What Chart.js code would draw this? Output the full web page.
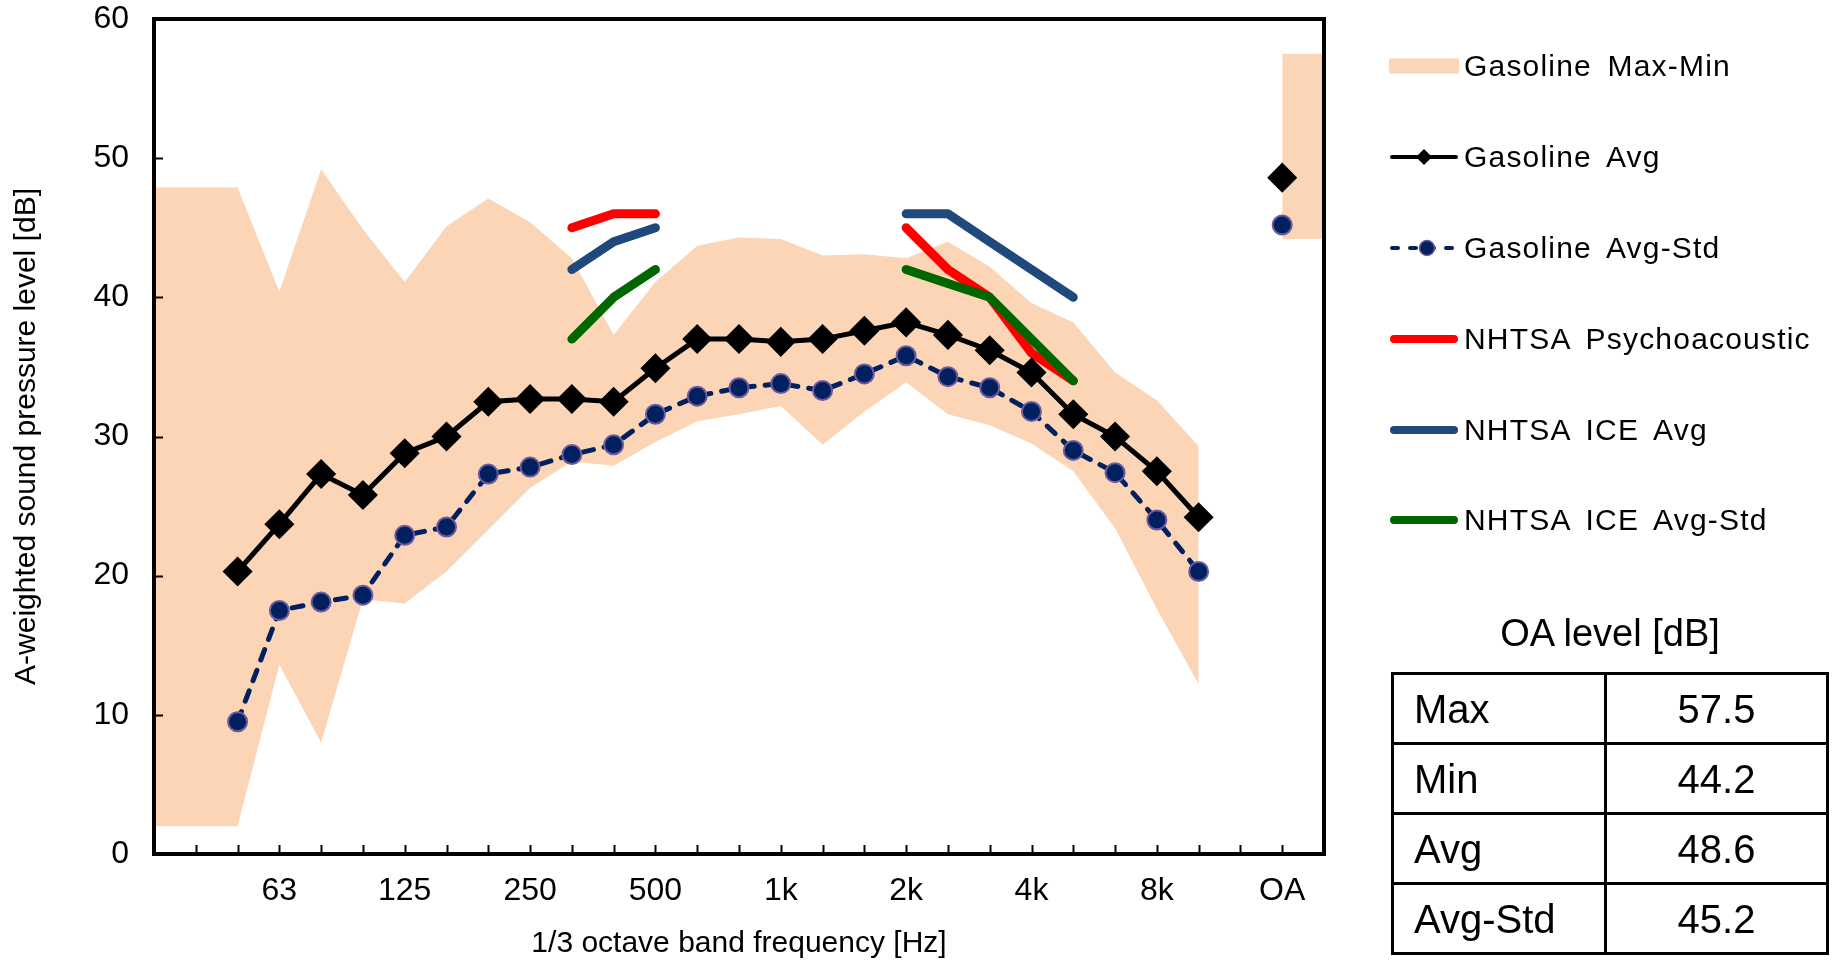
<!DOCTYPE html>
<html>
<head>
<meta charset="utf-8">
<script src="https://cdn.jsdelivr.net/npm/chart.js@4.4.1/dist/chart.umd.min.js"></script>
<style>
  body { margin: 0; background: #fff; font-family: 'Liberation Sans', Arial, sans-serif; color: #000; }
  #wrap { position: relative; width: 1841px; height: 966px; overflow: hidden; }
  #chartBox { position: absolute; left: 0; top: 0; width: 1841px; height: 966px; }
  #legend { position: absolute; left: 1389px; top: 0; }
  .item { position: absolute; left: 0; height: 36px; display: flex; align-items: center; white-space: nowrap;
          font-size: 30px; letter-spacing: 1.2px; word-spacing: 6px; }
  .item svg { width: 70px; height: 24px; margin-right: 5px; flex: none; }
  #oaTitle { position: absolute; left: 1391px; width: 438px; top: 612px; text-align: center; font-size: 38px; }
  #oaTable { position: absolute; left: 1391px; top: 672px; width: 438px; border-collapse: collapse; font-size: 40px; }
  #oaTable td { border: 3px solid #000; height: 67px; padding: 0; line-height: 1; }
  #oaTable td.k { width: 190px; padding-left: 20px; }
  #oaTable td.v { text-align: center; }
</style>
</head>
<body>
<div id="wrap">
  <div id="chartBox"><canvas id="spectrumChart"></canvas></div>
  <div id="legend"></div>
  <div id="oaTitle">OA level [dB]</div>
  <table id="oaTable"></table>
</div>
<script>
// 1/3 octave slots, left axis = 31.5 Hz, blank slot before OA, blank slot at right edge
const xLabels = ['31.5','40','50','63','80','100','125','160','200','250','315','400','500','630','800',
                 '1k','1.25k','1.6k','2k','2.5k','3.15k','4k','5k','6.3k','8k','10k','','OA',''];
const shownLabels = ['63','125','250','500','1k','2k','4k','8k','OA'];
const yTicks = [0, 10, 20, 30, 40, 50, 60];

const gasMax = [47.9,47.9,47.9,40.4,49.2,44.9,41.1,45.1,47.1,45.4,42.8,37.3,41.1,43.7,44.3,44.2,43.0,43.1,42.8,44.0,42.2,39.6,38.2,34.6,32.6,29.3,null,57.5,57.5];
const gasMin = [2.0,2.0,2.0,13.6,8.0,18.3,18.0,20.3,23.3,26.3,28.2,27.9,29.6,31.1,31.6,32.2,29.4,31.8,33.9,31.6,30.8,29.5,27.5,23.4,17.6,12.2,null,44.2,44.2];
const gasAvg = [null,null,20.3,23.7,27.3,25.8,28.8,30.0,32.5,32.7,32.7,32.5,34.9,37.0,37.0,36.8,37.0,37.6,38.2,37.3,36.2,34.6,31.6,30.0,27.5,24.2,null,48.6,null];
const gasAvgStd = [null,null,9.5,17.5,18.1,18.6,22.9,23.5,27.3,27.8,28.7,29.4,31.6,32.9,33.5,33.8,33.3,34.5,35.8,34.3,33.5,31.8,29.0,27.4,24.0,20.3,null,45.2,null];
const nhtsaPsycho = [null,null,null,null,null,null,null,null,null,null,45,46,46,null,null,null,null,null,45,42,40,36,34,null,null,null,null,null,null];
const nhtsaIceAvg = [null,null,null,null,null,null,null,null,null,null,42,44,45,null,null,null,null,null,46,46,44,42,40,null,null,null,null,null,null];
const nhtsaIceStd = [null,null,null,null,null,null,null,null,null,null,37,40,42,null,null,null,null,null,42,41,40,37,34,null,null,null,null,null,null];

const oaRows = ['Max', 'Min', 'Avg', 'Avg-Std'];
const oaValues = ['57.5', '44.2', '48.6', '45.2'];

const legendOrder = ['Gasoline Max-Min','Gasoline Avg','Gasoline Avg-Std','NHTSA Psychoacoustic','NHTSA ICE Avg','NHTSA ICE Avg-Std'];
const legendY = [66, 157, 248, 339, 430, 520];

const PEACH = '#fbd5b5';

// inner tick marks + plot frame like the Excel original
const frameTicks = {
    id: 'frameTicks',
    afterDraw(chart) {
        const { ctx, chartArea: a, scales: { x, y } } = chart;
        ctx.save();
        ctx.strokeStyle = '#000';
        ctx.lineWidth = 2;
        ctx.beginPath();
        for (let i = 0; i < xLabels.length; i++) {
            const px = Math.round(x.getPixelForValue(i)) + 0.5;
            ctx.moveTo(px, a.bottom);
            ctx.lineTo(px, a.bottom - 9);
        }
        yTicks.forEach(v => {
            const py = Math.round(y.getPixelForValue(v)) + 0.5;
            ctx.moveTo(a.left, py);
            ctx.lineTo(a.left + 9, py);
        });
        ctx.stroke();
        ctx.lineWidth = 4;
        ctx.strokeRect(a.left, a.top, a.right - a.left, a.bottom - a.top);
        ctx.restore();
    }
};

const tickFont = { family: "'Liberation Sans', Arial, sans-serif", size: 32 };
const titleFont = { family: "'Liberation Sans', Arial, sans-serif", size: 30 };

const ctx = document.getElementById('spectrumChart').getContext('2d');
const spectrumChart = new Chart(ctx, {
    type: 'line',
    data: {
        labels: xLabels,
        datasets: [{
            label: 'Gasoline Avg',
            data: gasAvg,
            borderColor: '#000',
            borderWidth: 5,
            pointStyle: 'rectRot',
            pointRadius: 11.5,
            pointBackgroundColor: '#000',
            pointBorderColor: '#000',
            order: 1
        }, {
            label: 'Gasoline Avg-Std',
            data: gasAvgStd,
            borderColor: '#002060',
            borderWidth: 5,
            borderDash: [11, 11],
            borderCapStyle: 'round',
            pointStyle: 'circle',
            pointRadius: 9.5,
            pointBackgroundColor: '#002060',
            pointBorderColor: '#6b5a9c',
            pointBorderWidth: 2,
            order: 2
        }, {
            label: 'NHTSA Psychoacoustic',
            data: nhtsaPsycho,
            borderColor: '#ff0000',
            borderWidth: 9,
            borderCapStyle: 'round',
            borderJoinStyle: 'round',
            pointRadius: 0,
            order: 5
        }, {
            label: 'NHTSA ICE Avg',
            data: nhtsaIceAvg,
            borderColor: '#1f497d',
            borderWidth: 9,
            borderCapStyle: 'round',
            borderJoinStyle: 'round',
            pointRadius: 0,
            order: 4
        }, {
            label: 'NHTSA ICE Avg-Std',
            data: nhtsaIceStd,
            borderColor: '#006600',
            borderWidth: 9,
            borderCapStyle: 'round',
            borderJoinStyle: 'round',
            pointRadius: 0,
            order: 3
        }, {
            label: 'Gasoline Max-Min',
            data: gasMax,
            borderColor: 'rgba(0,0,0,0)',
            borderWidth: 1,
            backgroundColor: PEACH,
            pointRadius: 0,
            fill: { target: '+1', above: PEACH, below: PEACH },
            order: 10
        }, {
            label: 'min',
            data: gasMin,
            borderColor: 'rgba(0,0,0,0)',
            borderWidth: 1,
            pointRadius: 0,
            fill: false,
            order: 11
        }]
    },
    options: {
        responsive: true,
        maintainAspectRatio: false,
        animation: false,
        layout: { padding: { top: 19, right: 517, left: 0, bottom: 0 } },
        elements: { line: { tension: 0 } },
        plugins: {
            legend: { display: false },
            tooltip: { enabled: false },
            filler: { drawTime: 'beforeDatasetsDraw' }
        },
        scales: {
            x: {
                offset: false,
                grid: { display: false, drawTicks: false },
                border: { display: false },
                afterFit: s => { s.height = 112; s.paddingLeft = 0; s.paddingRight = 0; },
                ticks: {
                    color: '#000',
                    font: tickFont,
                    padding: 18,
                    autoSkip: false,
                    maxRotation: 0,
                    callback: function(value, index) {
                        const lab = xLabels[index];
                        return shownLabels.includes(lab) ? lab : '';
                    }
                },
                title: {
                    display: true,
                    text: '1/3 octave band frequency [Hz]',
                    color: '#000',
                    font: titleFont,
                    padding: { top: 0, bottom: 4 }
                }
            },
            y: {
                min: 0,
                max: 60,
                grid: { display: false, drawTicks: false },
                border: { display: false },
                afterFit: s => { s.width = 154; s.paddingTop = 0; s.paddingBottom = 0; },
                ticks: {
                    stepSize: 10,
                    color: '#000',
                    font: tickFont,
                    padding: 25
                },
                title: {
                    display: true,
                    text: 'A-weighted sound pressure level [dB]',
                    color: '#000',
                    font: titleFont,
                    padding: { top: 9, bottom: 0 }
                }
            }
        }
    },
    plugins: [frameTicks]
});

// legend symbols drawn from the dataset styles
function legendSymbol(ds) {
    const NS = 'http://www.w3.org/2000/svg';
    const svg = document.createElementNS(NS, 'svg');
    svg.setAttribute('viewBox', '0 0 70 24');
    let html = '';
    if (ds.fill && ds.fill.target) {
        html = `<rect x="0" y="4.5" width="70" height="15" fill="${ds.backgroundColor}"/>`;
    } else if (ds.pointRadius) {
        const w = ds.borderWidth - 1;
        const dash = ds.borderDash ? 'stroke-dasharray="6 12"' : '';
        html = `<line x1="3" y1="12" x2="67" y2="12" stroke="${ds.borderColor}" stroke-width="${w}" ${dash} stroke-linecap="round"/>`;
        if (ds.pointStyle === 'rectRot') {
            html += `<polygon points="35,4 43,12 35,20 27,12" fill="${ds.pointBackgroundColor}"/>`;
        } else {
            html += `<circle cx="38" cy="12" r="7.5" fill="${ds.pointBackgroundColor}" stroke="${ds.pointBorderColor}" stroke-width="1.5"/>`;
        }
    } else {
        html = `<line x1="5" y1="12" x2="65" y2="12" stroke="${ds.borderColor}" stroke-width="8" stroke-linecap="round"/>`;
    }
    svg.innerHTML = html;
    return svg;
}

const legendBox = document.getElementById('legend');
legendOrder.forEach((name, i) => {
    const ds = spectrumChart.data.datasets.find(d => d.label === name);
    const item = document.createElement('div');
    item.className = 'item';
    item.style.top = (legendY[i] - 18) + 'px';
    item.appendChild(legendSymbol(ds));
    const span = document.createElement('span');
    span.textContent = name;
    item.appendChild(span);
    legendBox.appendChild(item);
});

const table = document.getElementById('oaTable');
oaRows.forEach((r, i) => {
    const tr = document.createElement('tr');
    tr.innerHTML = `<td class="k">${r}</td><td class="v">${oaValues[i]}</td>`;
    table.appendChild(tr);
});
</script>
</body>
</html>
